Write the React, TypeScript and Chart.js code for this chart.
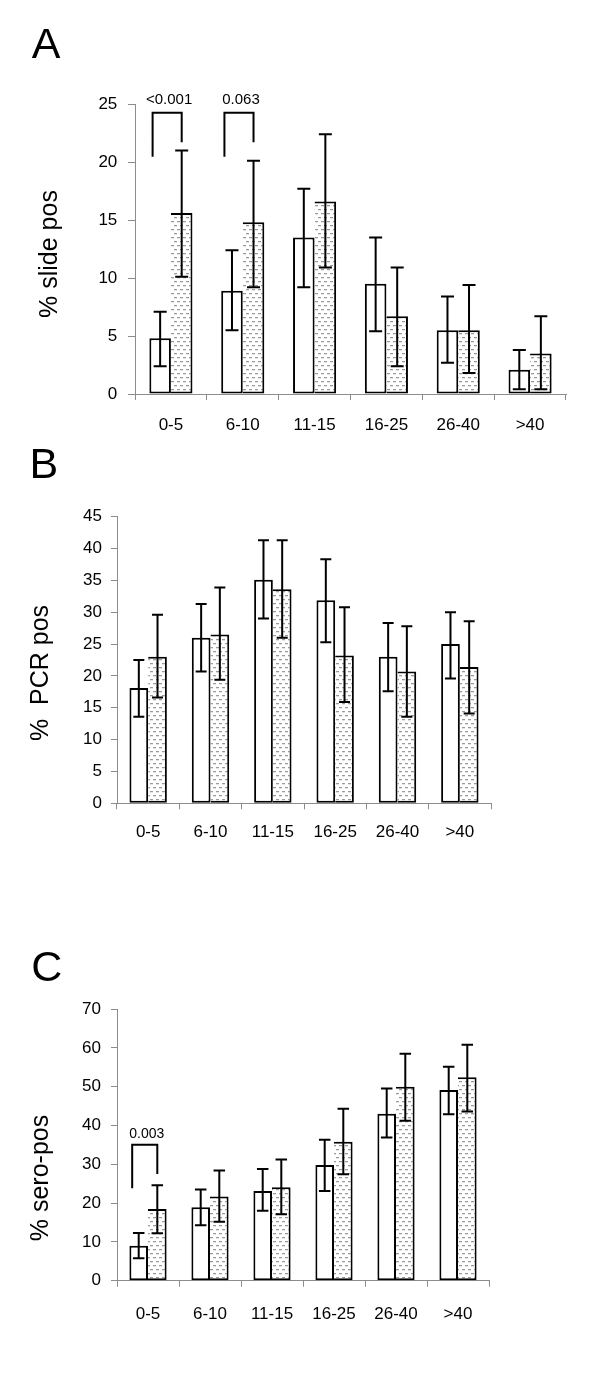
import React, { useEffect, useRef } from 'react';
import { Chart, registerables } from 'chart.js';
Chart.register(...registerables);

const categories = ['0-5', '6-10', '11-15', '16-25', '26-40', '>40'];

// Panel A – % slide pos
const slideOpen = [4.8, 8.9, 13.5, 9.5, 5.5, 2.1];
const slideOpenLow = [2.4, 5.5, 9.2, 5.4, 2.7, 0.4];
const slideOpenHigh = [7.1, 12.4, 17.7, 13.5, 8.4, 3.8];
const slideDot = [15.6, 14.8, 16.6, 6.7, 5.5, 3.5];
const slideDotLow = [10.1, 9.2, 10.9, 2.4, 1.8, 0.4];
const slideDotHigh = [21.0, 20.1, 22.4, 10.9, 9.4, 6.7];
const slideBracketCats = [0, 1];
const slideBracketTop = [24.25, 24.25];
const slideBracketLeft = [20.45, 20.45];
const slideBracketRight = [21.7, 21.7];
const slideBracketLabels = ['<0.001', '0.063'];

// Panel B – % PCR pos
const pcrOpen = [18.1, 26.0, 35.1, 31.9, 23.0, 25.0];
const pcrOpenLow = [13.6, 20.7, 29.0, 25.3, 17.6, 19.6];
const pcrOpenHigh = [22.5, 31.3, 41.3, 38.3, 28.3, 30.0];
const pcrDot = [23.0, 26.5, 33.6, 23.2, 20.7, 21.4];
const pcrDotLow = [16.6, 19.4, 26.0, 15.9, 13.6, 14.1];
const pcrDotHigh = [29.6, 33.9, 41.3, 30.8, 27.8, 28.6];

// Panel C – % sero-pos
const seroOpen = [9.0, 18.9, 23.1, 29.8, 43.0, 49.1];
const seroOpenLow = [5.8, 14.3, 18.0, 23.1, 36.9, 42.9];
const seroOpenHigh = [12.3, 23.5, 28.8, 36.3, 49.5, 55.1];
const seroDot = [18.5, 21.7, 24.1, 35.8, 50.0, 52.4];
const seroDotLow = [12.2, 15.2, 17.1, 27.4, 41.2, 43.6];
const seroDotHigh = [24.6, 28.4, 31.2, 44.3, 58.5, 60.8];
const seroBracketCats = [0];
const seroBracketTop = [35.0];
const seroBracketLeft = [23.8];
const seroBracketRight = [27.5];
const seroBracketLabels = ['0.003'];

const FONT = '"Liberation Sans", Arial, Helvetica, sans-serif';
const AXIS = '#8c8c8c';

type PanelCfg = {
  top: number; height: number;
  left: number; right: number; areaTop: number; areaBottom: number;
  max: number; step: number;
  open: number[]; openLow: number[]; openHigh: number[];
  dot: number[]; dotLow: number[]; dotHigh: number[];
  letter: string; letterX: number; letterY: number;
  title: string; titleX: number; titleY: number;
  yTickLen: number; yPad: number; xPad: number; yFont: number;
  cap: number;
  bCats?: number[]; bTop?: number[]; bLeft?: number[]; bRight?: number[]; bLabels?: string[];
  bFont?: number; bGap?: number;
};

function makePattern(): CanvasPattern | string {
  const c = document.createElement('canvas');
  c.width = 6; c.height = 8;
  const g = c.getContext('2d');
  if (!g) return '#ddd';
  g.fillStyle = '#ffffff';
  g.fillRect(0, 0, 6, 8);
  g.fillStyle = '#9a9a9a';
  g.fillRect(0, 1, 3, 1);
  g.fillRect(3, 5, 3, 1);
  g.fillStyle = '#e4e4e4';
  g.fillRect(0, 2, 3, 1);
  g.fillRect(3, 6, 3, 1);
  const p = g.createPattern(c, 'repeat');
  return p || '#ddd';
}

function Panel({ cfg }: { cfg: PanelCfg }) {
  const ref = useRef<HTMLCanvasElement | null>(null);
  useEffect(() => {
    if (!ref.current) return;
    const pattern = makePattern();
    const overlay = {
      id: 'overlay',
      afterDatasetsDraw(chart: any) {
        const ctx = chart.ctx as CanvasRenderingContext2D;
        const y = chart.scales.y;
        const m0 = chart.getDatasetMeta(0);
        const m1 = chart.getDatasetMeta(1);
        ctx.save();
        ctx.strokeStyle = '#000';
        ctx.lineWidth = 2;
        const errs = [
          [cfg.openLow, cfg.openHigh, m0],
          [cfg.dotLow, cfg.dotHigh, m1],
        ] as any[];
        errs.forEach(([lo, hi, meta]) => {
          meta.data.forEach((bar: any, j: number) => {
            const x = bar.x;
            const yl = y.getPixelForValue(lo[j]);
            const yh = y.getPixelForValue(hi[j]);
            const h = cfg.cap / 2;
            ctx.beginPath();
            ctx.moveTo(x, yl); ctx.lineTo(x, yh);
            ctx.moveTo(x - h, yl); ctx.lineTo(x + h, yl);
            ctx.moveTo(x - h, yh); ctx.lineTo(x + h, yh);
            ctx.stroke();
          });
        });
        if (cfg.bCats) {
          cfg.bCats.forEach((cat, i) => {
            const w = m0.data[cat];
            const d = m1.data[cat];
            const xl = w.x - w.width / 2 + 0.15 * w.width;
            const xr = d.x;
            const yt = y.getPixelForValue(cfg.bTop![i]);
            const yl = y.getPixelForValue(cfg.bLeft![i]);
            const yr = y.getPixelForValue(cfg.bRight![i]);
            ctx.beginPath();
            ctx.moveTo(xl, yl); ctx.lineTo(xl, yt); ctx.lineTo(xr, yt); ctx.lineTo(xr, yr);
            ctx.stroke();
            ctx.fillStyle = '#000';
            ctx.font = `${cfg.bFont}px ${FONT}`;
            ctx.textAlign = 'center';
            ctx.textBaseline = 'alphabetic';
            ctx.fillText(cfg.bLabels![i], (xl + xr) / 2 + 2, yt - cfg.bGap!);
          });
        }
        ctx.restore();
      },
      afterDraw(chart: any) {
        const ctx = chart.ctx as CanvasRenderingContext2D;
        ctx.save();
        ctx.fillStyle = '#000';
        ctx.textAlign = 'left';
        ctx.textBaseline = 'alphabetic';
        ctx.font = `43px ${FONT}`;
        ctx.fillText(cfg.letter, cfg.letterX, cfg.letterY - cfg.top);
        ctx.translate(cfg.titleX, cfg.titleY - cfg.top);
        ctx.rotate(-Math.PI / 2);
        ctx.textAlign = 'center';
        ctx.font = `25px ${FONT}`;
        ctx.fillText(cfg.title, 0, 0);
        ctx.restore();
      },
    };
    const chart = new Chart(ref.current, {
      type: 'bar',
      data: {
        labels: categories,
        datasets: [
          {
            data: cfg.open, backgroundColor: '#ffffff', borderColor: '#000', borderWidth: 2,
            borderSkipped: false, categoryPercentage: 0.6, barPercentage: 1.0,
          },
          {
            data: cfg.dot, backgroundColor: pattern as any, borderColor: '#000', borderWidth: 2,
            borderSkipped: 'left', categoryPercentage: 0.6, barPercentage: 1.0,
          },
        ],
      },
      options: {
        responsive: false,
        animation: false,
        devicePixelRatio: 1,
        layout: { padding: { left: 0, top: cfg.areaTop - cfg.top, right: 600 - cfg.right, bottom: 0 } },
        plugins: { legend: { display: false }, tooltip: { enabled: false }, title: { display: false } },
        scales: {
          x: {
            type: 'category',
            offset: true,
            grid: { offset: true, drawOnChartArea: false, drawTicks: true, tickLength: 6, color: AXIS, lineWidth: 1 },
            border: { display: true, color: AXIS, width: 1 },
            ticks: { color: '#000', font: { family: FONT, size: 17 }, padding: cfg.xPad, maxRotation: 0, autoSkip: false },
            afterFit: (s: any) => { s.height = cfg.height - (cfg.areaBottom - cfg.top); },
          },
          y: {
            min: 0, max: cfg.max,
            grid: { drawOnChartArea: false, drawTicks: true, tickLength: cfg.yTickLen, color: AXIS, lineWidth: 1 },
            border: { display: true, color: AXIS, width: 1 },
            ticks: { stepSize: cfg.step, color: '#000', font: { family: FONT, size: cfg.yFont }, padding: cfg.yPad },
            afterFit: (s: any) => { s.width = cfg.left; },
          },
        },
      },
      plugins: [overlay],
    } as any);
    return () => chart.destroy();
  }, [cfg]);
  return (
    <canvas
      ref={ref}
      width={600}
      height={cfg.height}
      style={{ position: 'absolute', left: 0, top: cfg.top, width: 600, height: cfg.height, display: 'block' }}
    />
  );
}

const panelA: PanelCfg = {
  top: 0, height: 430, left: 135, right: 566, areaTop: 104, areaBottom: 394,
  max: 25, step: 5,
  open: slideOpen, openLow: slideOpenLow, openHigh: slideOpenHigh,
  dot: slideDot, dotLow: slideDotLow, dotHigh: slideDotHigh,
  letter: 'A', letterX: 31.7, letterY: 58.3,
  title: '% slide pos', titleX: 57, titleY: 254,
  yTickLen: 7, yPad: 10.7, xPad: 14.8, yFont: 17, cap: 13,
  bCats: slideBracketCats, bTop: slideBracketTop, bLeft: slideBracketLeft, bRight: slideBracketRight,
  bLabels: slideBracketLabels, bFont: 15, bGap: 8.4,
};

const panelB: PanelCfg = {
  top: 430, height: 430, left: 117, right: 491, areaTop: 516.7, areaBottom: 803.3,
  max: 45, step: 5,
  open: pcrOpen, openLow: pcrOpenLow, openHigh: pcrOpenHigh,
  dot: pcrDot, dotLow: pcrDotLow, dotHigh: pcrDotHigh,
  letter: 'B', letterX: 29.6, letterY: 478.3,
  title: '%  PCR pos', titleX: 48, titleY: 673,
  yTickLen: 6, yPad: 9, xPad: 12.8, yFont: 17, cap: 11,
};

const panelC: PanelCfg = {
  top: 860, height: 536, left: 117, right: 489, areaTop: 1009, areaBottom: 1280.7,
  max: 70, step: 10,
  open: seroOpen, openLow: seroOpenLow, openHigh: seroOpenHigh,
  dot: seroDot, dotLow: seroDotLow, dotHigh: seroDotHigh,
  letter: 'C', letterX: 31.2, letterY: 981,
  title: '% sero-pos', titleX: 48, titleY: 1178,
  yTickLen: 6, yPad: 10, xPad: 17, yFont: 17, cap: 11.5,
  bCats: seroBracketCats, bTop: seroBracketTop, bLeft: seroBracketLeft, bRight: seroBracketRight,
  bLabels: seroBracketLabels, bFont: 14, bGap: 7.3,
};

export default function App() {
  return (
    <div style={{ position: 'absolute', left: 0, top: 0, width: 600, height: 1396, background: '#fff' }}>
      <Panel cfg={panelA} />
      <Panel cfg={panelB} />
      <Panel cfg={panelC} />
    </div>
  );
}
